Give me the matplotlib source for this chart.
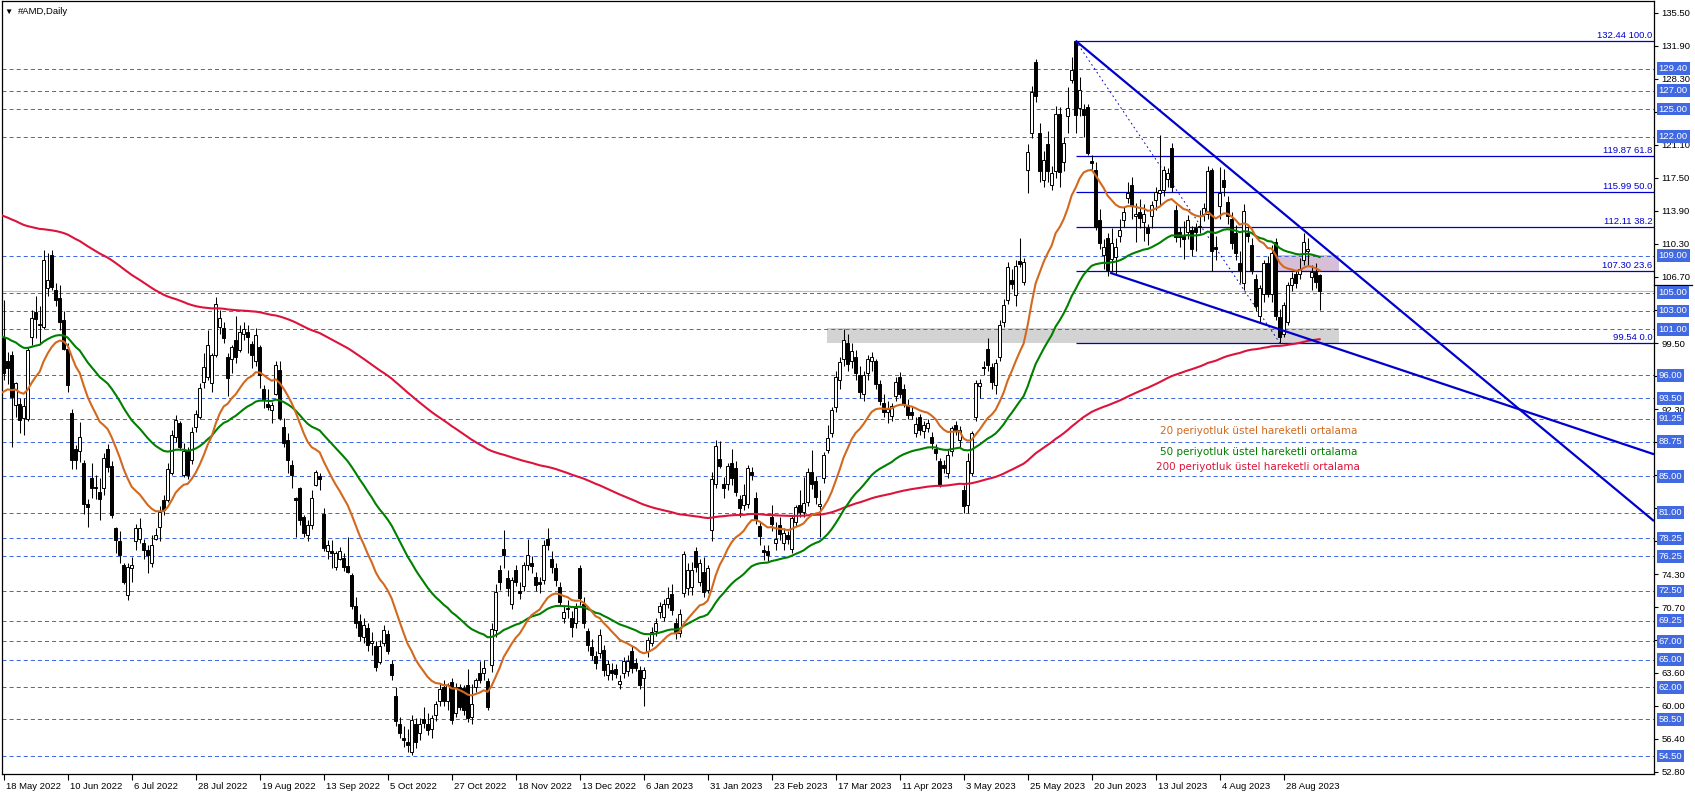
import matplotlib
matplotlib.use("Agg")
import matplotlib.pyplot as plt
import matplotlib.transforms as mtransforms
from matplotlib.patches import Rectangle
import numpy as np

# günlük mumlar, 18 May 2022 .. 8 Sep 2023 (her satır 10 bar)
opens = [
    100.0, 97.5, 98.2, 92.8, 92.9, 91.3, 91.2, 100.2, 102.9, 101.5,
    101.3, 105.5, 109.1, 105.3, 104.4, 102.0, 98.9, 91.9, 88.0, 87.7,
    86.4, 82.0, 84.8, 83.8, 83.3, 83.7, 88.0, 86.1, 79.3, 77.9,
    75.3, 72.1, 75.0, 77.9, 78.2, 77.7, 77.0, 75.5, 78.2, 79.5,
    82.4, 82.4, 85.3, 89.3, 90.8, 85.1, 87.7, 86.8, 90.4, 91.5,
    95.3, 95.8, 95.1, 98.2, 101.3, 101.1, 98.0, 97.8, 99.8, 98.75,
    100.5, 100.75, 99.4, 97.5, 99.1, 94.5, 92.9, 92.2, 94.0, 96.6,
    90.4, 88.9, 86.2, 82.6, 83.7, 80.6, 78.6, 79.7, 84.0, 85.0,
    80.9, 76.8, 76.8, 75.1, 76.0, 76.1, 75.2, 74.2, 70.8, 69.2,
    67.5, 68.5, 66.8, 66.5, 64.8, 66.8, 67.8, 64.5, 61.0, 58.0,
    56.5, 56.0, 55.0, 58.0, 57.0, 58.5, 58.0, 57.5, 59.0, 60.5,
    62.0, 60.5, 62.6, 59.2, 62.0, 61.9, 62.2, 58.8, 62.0, 63.5,
    63.5, 62.7, 64.4, 68.2, 74.8, 77.1, 73.9, 71.1, 74.8, 72.5,
    73.0, 75.3, 75.5, 74.0, 73.5, 73.7, 78.2, 76.0, 74.96, 72.96,
    69.5, 70.5, 69.5, 69.0, 74.96, 71.1, 68.1, 66.4, 65.4, 65.7,
    66.1, 63.3, 63.9, 64.0, 62.4, 63.6, 63.8, 65.9, 64.6, 63.9,
    63.0, 65.9, 66.8, 68.1, 70.2, 69.7, 71.1, 72.2, 69.0, 67.9,
    72.3, 72.8, 72.9, 76.9, 73.5, 74.6, 72.6, 79.1, 84.1, 86.9,
    84.2, 84.2, 86.4, 85.9, 82.5, 81.9, 82.0, 85.5, 82.6, 79.6,
    77.0, 76.9, 80.6, 77.7, 79.7, 77.7, 78.6, 77.1, 80.0, 81.9,
    81.1, 82.2, 85.4, 84.5, 81.7, 84.8, 87.9, 89.7, 92.5, 95.5,
    97.8, 99.5, 97.5, 98.0, 96.0, 94.0, 96.2, 97.5, 97.5, 95.0,
    93.0, 92.0, 91.6, 93.7, 95.8, 94.5, 92.8, 92.0, 89.7, 91.5,
    89.9, 90.3, 89.3, 88.0, 86.6, 86.2, 85.3, 87.7, 90.6, 88.9,
    83.5, 81.9, 85.3, 91.5, 94.8, 96.9, 98.9, 96.9, 94.9, 98.0,
    101.8, 104.2, 106.4, 104.7, 108.4, 106.2, 118.4, 122.4, 130.1, 122.4,
    117.3, 121.2, 116.7, 118.2, 124.5, 119.2, 124.2, 128.2, 132.4, 125.1,
    125.0, 125.2, 119.3, 118.4, 112.9, 109.1, 110.9, 108.7, 108.9, 111.2,
    112.9, 115.3, 116.7, 113.3, 113.8, 112.7, 112.0, 113.3, 115.1, 115.8,
    116.2, 117.4, 120.7, 114.0, 111.6, 111.2, 111.6, 111.8, 112.0, 112.1,
    113.6, 113.6, 118.4, 110.0, 114.4, 117.3, 114.9, 113.0, 111.5, 108.2,
    106.0, 111.5, 110.2, 106.5, 102.4, 104.9, 108.2, 104.9, 110.5, 102.3,
    100.5, 101.8, 105.8, 107.0, 107.0, 108.5, 109.5, 106.7, 107.2, 106.9,
]
highs = [
    104.2, 98.5, 98.6, 95.3, 93.5, 93.5, 99.1, 103.1, 104.6, 103.5,
    109.6, 109.3, 109.6, 106.0, 105.8, 103.0, 99.5, 92.3, 88.4, 90.9,
    86.75, 82.5, 86.4, 85.1, 84.8, 87.5, 88.5, 86.6, 79.5, 79.0,
    75.5, 75.5, 76.2, 79.8, 80.4, 78.2, 77.5, 78.6, 79.3, 81.7,
    83.0, 86.4, 90.0, 91.7, 91.0, 88.6, 88.2, 90.4, 92.2, 95.1,
    98.4, 100.9, 98.4, 104.5, 103.1, 101.8, 98.4, 99.3, 102.4, 101.5,
    101.8, 101.5, 99.7, 101.1, 99.3, 94.9, 94.5, 93.1, 97.6, 97.6,
    91.3, 89.7, 86.8, 82.7, 83.8, 80.8, 80.2, 83.5, 85.7, 85.3,
    81.5, 78.0, 78.0, 76.8, 77.3, 76.6, 78.4, 74.5, 71.8, 70.0,
    69.6, 69.0, 68.0, 67.0, 67.2, 68.8, 68.2, 65.0, 62.0, 58.8,
    57.8, 57.5, 59.0, 58.6, 58.7, 59.8, 59.2, 59.0, 60.5, 62.5,
    62.8, 62.5, 63.0, 62.5, 62.4, 62.3, 64.0, 62.4, 63.0, 64.9,
    65.0, 63.0, 69.0, 73.3, 75.3, 79.1, 74.8, 74.0, 75.3, 73.5,
    75.6, 78.2, 76.3, 74.6, 74.0, 78.0, 79.3, 76.8, 75.5, 73.5,
    71.0, 71.5, 70.3, 71.2, 75.3, 71.8, 68.5, 67.3, 66.0, 68.3,
    66.6, 65.0, 64.6, 64.5, 63.3, 65.3, 65.5, 66.5, 65.2, 64.3,
    64.2, 67.5, 68.6, 69.5, 71.3, 71.6, 72.9, 73.3, 69.6, 70.5,
    76.9, 75.5, 75.6, 77.3, 76.0, 76.2, 75.3, 85.5, 88.9, 88.8,
    84.9, 86.4, 88.0, 86.6, 83.0, 84.1, 86.2, 86.0, 83.3, 80.0,
    77.5, 77.5, 81.9, 80.0, 80.5, 79.3, 79.0, 80.7, 81.9, 83.5,
    84.9, 85.9, 87.9, 85.0, 83.5, 87.6, 90.6, 92.5, 96.5, 98.0,
    101.0, 100.5, 99.5, 98.8, 97.0, 96.5, 98.2, 98.5, 97.8, 95.5,
    94.0, 93.2, 93.0, 95.8, 96.3, 95.0, 93.4, 92.6, 91.4, 91.8,
    91.0, 91.2, 89.8, 88.5, 87.0, 86.8, 87.8, 90.5, 91.0, 90.5,
    84.0, 87.5, 89.9, 95.5, 95.6, 97.6, 100.0, 97.3, 97.8, 102.0,
    104.3, 108.3, 107.6, 108.6, 110.9, 108.8, 121.2, 127.5, 130.4, 123.5,
    120.4, 122.6, 118.8, 125.3, 125.2, 122.0, 127.4, 130.7, 132.44, 128.5,
    125.5, 125.6, 120.0, 119.2, 114.1, 110.8, 111.5, 112.0, 111.0, 113.0,
    114.3, 117.0, 117.6, 114.8, 115.2, 114.6, 112.5, 115.0, 116.5, 122.2,
    118.8, 118.6, 121.3, 114.5, 112.2, 112.8, 113.5, 112.3, 112.6, 114.0,
    114.8, 118.8, 118.6, 111.2, 118.7, 118.5, 115.5, 113.8, 112.4, 109.5,
    114.6, 112.3, 111.0, 107.0, 105.8, 108.5, 109.0, 110.2, 111.0, 103.2,
    104.0, 106.2, 107.2, 107.5, 108.8, 111.5, 111.0, 108.0, 108.2, 107.0,
]
lows = [
    95.5, 95.0, 88.2, 91.5, 89.7, 89.5, 91.0, 99.3, 100.0, 99.5,
    101.0, 104.6, 105.3, 103.5, 100.9, 98.7, 94.2, 85.8, 85.8, 86.5,
    80.9, 79.5, 82.6, 82.5, 80.2, 83.0, 85.5, 80.4, 76.6, 75.5,
    73.3, 71.5, 73.5, 77.0, 77.7, 76.0, 74.4, 75.1, 78.0, 77.9,
    80.8, 82.2, 85.1, 88.7, 87.8, 84.9, 84.7, 86.3, 89.8, 91.2,
    94.6, 95.5, 94.2, 98.0, 100.5, 99.5, 93.7, 96.2, 97.3, 98.5,
    99.8, 98.4, 96.8, 97.0, 94.6, 92.4, 92.2, 90.8, 93.8, 91.1,
    88.2, 85.3, 83.7, 78.4, 79.7, 78.4, 77.9, 79.2, 83.9, 83.5,
    76.8, 76.0, 75.0, 74.8, 75.9, 74.7, 74.5, 70.5, 68.5, 67.0,
    66.8, 66.0, 65.5, 63.8, 64.5, 66.5, 65.6, 62.8, 57.8, 56.5,
    55.5, 55.0, 54.57, 55.4, 56.2, 57.6, 56.8, 56.5, 58.3, 60.0,
    60.0, 59.5, 58.0, 58.8, 59.5, 59.0, 58.2, 58.0, 61.5, 62.5,
    62.8, 59.5, 63.7, 67.5, 72.6, 75.0, 71.9, 70.5, 73.0, 71.6,
    72.5, 74.8, 74.5, 72.5, 72.3, 73.2, 77.0, 74.5, 73.0, 70.8,
    69.0, 69.5, 67.5, 68.5, 71.0, 68.5, 66.0, 65.0, 64.0, 65.2,
    63.2, 62.8, 62.8, 63.0, 61.8, 63.0, 63.2, 63.6, 63.8, 61.8,
    60.0, 65.3, 66.5, 67.6, 69.6, 69.2, 70.6, 69.9, 67.3, 67.5,
    71.8, 72.0, 72.0, 74.6, 73.0, 71.8, 72.3, 77.9, 83.7, 85.9,
    82.6, 83.5, 84.0, 82.8, 80.5, 81.3, 81.5, 84.6, 79.8, 77.5,
    75.9, 75.8, 79.0, 77.0, 78.0, 77.0, 77.6, 76.6, 79.6, 80.6,
    80.6, 81.8, 83.6, 82.0, 78.4, 84.3, 87.5, 89.3, 92.0, 94.5,
    97.0, 96.5, 96.8, 95.5, 93.5, 93.2, 95.5, 96.5, 94.5, 92.8,
    91.5, 90.8, 91.0, 93.2, 93.5, 92.5, 91.2, 91.2, 89.3, 89.5,
    89.2, 89.8, 88.0, 86.8, 83.8, 85.3, 84.8, 87.2, 89.5, 88.2,
    81.0, 81.0, 85.0, 91.0, 93.5, 96.0, 96.5, 94.5, 94.0, 97.6,
    101.2, 103.8, 105.4, 103.5, 107.8, 105.8, 115.8, 121.8, 125.8, 117.0,
    116.5, 117.0, 116.2, 117.5, 116.5, 118.2, 122.4, 127.8, 122.4, 124.2,
    122.0, 120.0, 118.4, 111.8, 109.8, 107.6, 106.8, 107.2, 107.0, 110.5,
    112.2, 114.8, 113.0, 110.5, 112.0, 110.6, 110.2, 112.0, 114.0, 114.5,
    115.5, 116.5, 116.0, 110.5, 110.0, 108.7, 110.8, 109.0, 109.5, 111.5,
    112.8, 113.0, 107.4, 108.5, 113.0, 115.5, 112.5, 109.8, 108.6, 106.0,
    105.3, 110.5, 107.0, 103.0, 101.8, 104.0, 104.5, 104.0, 102.0, 99.54,
    100.2, 101.5, 105.2, 105.5, 106.5, 108.0, 108.0, 105.3, 105.5, 103.1,
]
closes = [
    96.2, 96.8, 93.6, 95.1, 91.1, 92.6, 98.7, 102.2, 102.1, 101.6,
    108.5, 106.4, 105.6, 104.2, 101.8, 98.9, 94.9, 86.8, 86.75, 89.3,
    82.0, 81.6, 83.7, 83.7, 82.5, 87.0, 86.0, 80.8, 78.0, 76.4,
    73.5, 75.06, 75.3, 79.3, 79.3, 77.0, 76.4, 77.5, 78.6, 81.1,
    81.3, 85.8, 89.5, 91.1, 88.2, 87.7, 85.1, 89.8, 91.8, 94.6,
    96.9, 99.3, 98.2, 103.8, 102.2, 100.0, 95.7, 99.1, 98.0, 100.75,
    101.0, 100.2, 98.2, 100.4, 96.0, 93.3, 92.5, 92.7, 97.1, 91.3,
    88.6, 86.8, 85.1, 82.4, 80.2, 78.8, 79.7, 82.6, 85.5, 84.7,
    77.2, 77.5, 76.6, 76.6, 76.8, 75.1, 74.6, 70.8, 69.0, 67.6,
    68.8, 66.6, 67.0, 64.2, 66.5, 68.2, 66.0, 63.3, 58.3, 57.0,
    56.2, 55.7, 58.4, 56.0, 58.0, 58.1, 57.3, 58.7, 60.2, 61.8,
    60.5, 62.3, 58.4, 62.0, 59.9, 59.5, 58.6, 60.2, 62.8, 62.8,
    64.1, 59.9, 68.4, 72.4, 73.5, 76.4, 72.8, 73.7, 73.5, 72.3,
    75.3, 76.4, 75.2, 73.1, 73.3, 77.5, 77.5, 75.1, 73.7, 71.3,
    70.2, 70.5, 68.6, 70.6, 71.7, 69.0, 66.6, 65.5, 64.6, 67.7,
    63.9, 64.5, 63.5, 63.4, 62.7, 64.9, 64.9, 64.1, 64.1, 62.2,
    63.9, 67.1, 68.0, 69.0, 70.8, 71.1, 71.7, 70.4, 67.9, 70.0,
    76.5, 74.8, 74.8, 75.1, 75.5, 72.4, 74.96, 84.7, 88.3, 86.1,
    83.7, 86.1, 84.8, 83.3, 81.5, 82.9, 85.9, 85.1, 80.3, 78.5,
    76.7, 76.4, 79.8, 78.1, 78.7, 78.8, 78.2, 80.4, 81.6, 81.1,
    82.1, 85.4, 84.1, 82.7, 82.0, 87.3, 89.2, 92.2, 95.8, 97.4,
    99.8, 97.2, 98.6, 96.2, 94.2, 96.0, 97.8, 98.0, 95.0, 93.2,
    92.0, 92.3, 92.6, 95.3, 94.0, 92.9, 91.7, 91.7, 90.7, 90.0,
    90.6, 90.8, 88.6, 87.5, 84.0, 85.9, 87.3, 90.2, 90.0, 90.0,
    81.7, 86.6, 89.7, 95.1, 95.2, 96.8, 97.1, 95.3, 97.3, 101.5,
    103.6, 107.8, 105.9, 107.9, 108.1, 108.3, 120.3, 126.9, 126.4, 118.2,
    119.5, 118.2, 118.0, 124.5, 118.1, 121.3, 125.1, 129.3, 124.4, 127.1,
    124.3, 120.2, 119.1, 112.2, 110.4, 110.0, 107.5, 110.4, 110.0, 111.8,
    113.8, 115.8, 114.5, 113.6, 113.1, 113.6, 111.5, 114.5, 116.0, 116.2,
    118.4, 118.0, 116.5, 111.1, 111.1, 110.8, 112.9, 109.8, 111.6, 112.3,
    114.2, 118.2, 109.5, 109.7, 115.8, 116.5, 113.3, 110.4, 109.3, 107.5,
    113.9, 111.2, 107.5, 103.5, 105.5, 108.2, 104.9, 109.3, 102.5, 100.2,
    103.6, 105.8, 106.6, 106.0, 107.6, 110.5, 109.7, 107.2, 106.1, 105.2,
]

# EMA değerleri grafiğin sol kenarında (ilk bardan önce)
ema_seed = {20: 94.0, 50: 100.3, 200: 113.5}
ema_colors = {20: "#D2691E", 50: "#008000", 200: "#DC143C"}
ema_texts = {
    20: "20 periyotluk üstel hareketli ortalama",
    50: "50 periyotluk üstel hareketli ortalama",
    200: "200 periyotluk üstel hareketli ortalama",
}

date_labels = ["18 May 2022", "10 Jun 2022", "6 Jul 2022", "28 Jul 2022", "19 Aug 2022",
               "13 Sep 2022", "5 Oct 2022", "27 Oct 2022", "18 Nov 2022", "13 Dec 2022",
               "6 Jan 2023", "31 Jan 2023", "23 Feb 2023", "17 Mar 2023", "11 Apr 2023",
               "3 May 2023", "25 May 2023", "20 Jun 2023", "13 Jul 2023", "4 Aug 2023",
               "28 Aug 2023"]
bars_per_label = 16

# fiyat ekseni: tüm çentikler, ve kutuların altında kalmayan etiketler
price_ticks = [135.50, 131.90, 128.30, 124.70, 121.10, 117.50, 113.90, 110.30, 106.70,
               103.10, 99.50, 95.90, 92.30, 88.70, 85.10, 81.50, 77.90, 74.30, 70.70,
               67.10, 63.60, 60.00, 56.40, 52.80]
hidden_ticks = [124.70, 103.10, 95.90, 88.70, 85.10, 81.50, 77.90, 67.10]
levels = [129.40, 127.00, 125.00, 122.00, 109.00, 105.00, 103.00, 101.00, 96.00, 93.50,
          91.25, 88.75, 85.00, 81.00, 78.25, 76.25, 72.50, 69.25, 67.00, 65.00, 62.00,
          58.50, 54.50]

# fibonacci: tepe ve dip (bar, fiyat)
fib_top = (268, 132.44)
fib_bottom = (319, 99.54)
fib_ratios = [100.0, 61.8, 50.0, 38.2, 23.6, 0.0]

# trend çizgileri, iki nokta (bar, fiyat)
trend_upper = [(268, 132.44), (302.4, 119.99)]
trend_lower = [(276.6, 107.16), (334.1, 98.8)]

# kutular: bar başlangıç, bar bitiş, alt, üst
zone_gray = (205.8, 333.8, 99.54, 101.1)
zone_pink = (318.0, 333.8, 107.4, 109.1)

BLUE = "#0000CD"
LEVEL_BLUE = "#4169E1"


def ema(values, period, seed):
    k = 2.0 / (period + 1)
    out = [seed]
    for v in values:
        out.append(out[-1] + k * (v - out[-1]))
    return np.array(out)


plt.rcParams["font.family"] = ["Liberation Sans", "DejaVu Sans"]
plt.rcParams["lines.scale_dashes"] = False

W, H = 1695, 795
fig = plt.figure(figsize=(W / 100, H / 100), dpi=100)
ax = fig.add_axes([2 / W, 21 / H, 1652 / W, 773 / H])
x_left, x_right = -0.425, 412.6
ax.set_xlim(x_left, x_right)
ax.set_ylim(52.55, 136.77)

for s in ax.spines.values():
    s.set_linewidth(0.9)
    s.set_color("black")

# zonlar
x0, x1, y0, y1 = zone_gray
ax.add_patch(Rectangle((x0, y0), x1 - x0, y1 - y0, facecolor="#D3D3D3", edgecolor="none", zorder=0.5))
x0, x1, y0, y1 = zone_pink
ax.add_patch(Rectangle((x0, y0), x1 - x0, y1 - y0, facecolor="#D8BFD8", edgecolor="none", zorder=0.5))

# yatay seviyeler
for lv in levels:
    ax.axhline(lv, color=LEVEL_BLUE, lw=0.72, dashes=(2.9, 2.2), zorder=1)
ax.axhline(closes[-1], color="#C0C0C0", lw=0.8, zorder=0.8)

# fibonacci
f_hi, f_lo = fib_top[1], fib_bottom[1]
for r in fib_ratios:
    p = f_lo + (f_hi - f_lo) * r / 100
    ax.hlines(p, fib_top[0], x_right, color=BLUE, lw=0.9, zorder=3)
    ax.text(x_right - 0.4, p + 0.12, f"{p:.2f} {r:.1f}", ha="right", va="bottom",
            color=BLUE, fontsize=6.8, zorder=8)
ax.plot([fib_top[0], fib_bottom[0]], [fib_top[1], fib_bottom[1]], color=BLUE,
        lw=0.7, dashes=(1.2, 2.2), zorder=3)

# mumlar
x = np.arange(len(closes))
o, h, l, c = map(np.array, (opens, highs, lows, closes))
up = c >= o
ax.vlines(x, l, h, color="black", linewidth=0.75, zorder=4)
body_lo = np.minimum(o, c)
body_h = np.maximum(np.abs(c - o), 0.1)
ax.bar(x[up], body_h[up], bottom=body_lo[up], width=0.62, color="white",
       edgecolor="black", linewidth=0.7, zorder=5)
ax.bar(x[~up], body_h[~up], bottom=body_lo[~up], width=0.62, color="black",
       edgecolor="black", linewidth=0.7, zorder=5)

# hareketli ortalamalar
ex = np.arange(-1, len(closes))
for period in (200, 50, 20):
    ax.plot(ex, ema(closes, period, ema_seed[period]), color=ema_colors[period],
            lw=1.5, zorder=6)

# trend çizgileri
for (xa, ya), (xb, yb) in (trend_upper, trend_lower):
    slope = (yb - ya) / (xb - xa)
    ax.plot([xa, x_right], [ya, ya + slope * (x_right - xa)], color=BLUE, lw=1.6,
            zorder=7, solid_capstyle="butt")

# açıklama yazıları
for period, (tx, ty) in zip((20, 50, 200), ((289.1, 89.9), (289.1, 87.6), (288.1, 85.95))):
    ax.text(tx, ty, ema_texts[period], color=ema_colors[period], fontsize=7.5,
            family=["DejaVu Sans"], va="center", ha="left", zorder=8)

# sağ eksen
ax.yaxis.tick_right()
ax.set_yticks(price_ticks)
ax.set_yticklabels(["" if t in hidden_ticks else f"{t:.2f}" for t in price_ticks])
ax.tick_params(axis="y", length=3, width=0.8, pad=2.5, labelsize=6.8)
trans = mtransforms.blended_transform_factory(ax.transAxes, ax.transData)
ax.plot([1.0, 1.023], [105.78, 105.78], transform=trans, color="black", lw=0.9,
        clip_on=False, zorder=9)
for lv in levels:
    ax.text(1.0028, lv, f"{lv:.2f}", transform=trans, ha="left", va="center",
            color="white", fontsize=6.8, zorder=10, clip_on=False,
            bbox=dict(boxstyle="square,pad=0.2", fc=LEVEL_BLUE, ec="none"))

# tarih ekseni
ax.set_xticks(np.arange(len(date_labels)) * bars_per_label)
ax.set_xticklabels(date_labels)
ax.tick_params(axis="x", length=4, width=0.8, pad=2, labelsize=6.8)
shift = mtransforms.ScaledTranslation(2 / 72, 0, fig.dpi_scale_trans)
for lab in ax.get_xticklabels():
    lab.set_horizontalalignment("left")
    lab.set_transform(lab.get_transform() + shift)

# başlık
fig.text(4 / W, 1 - 12 / H, "\u25BC", fontsize=6, va="center", ha="left")
fig.text(18 / W, 1 - 12 / H, "#AMD,Daily", fontsize=6.8, va="center", ha="left")

fig.savefig("out.png", dpi=100)
